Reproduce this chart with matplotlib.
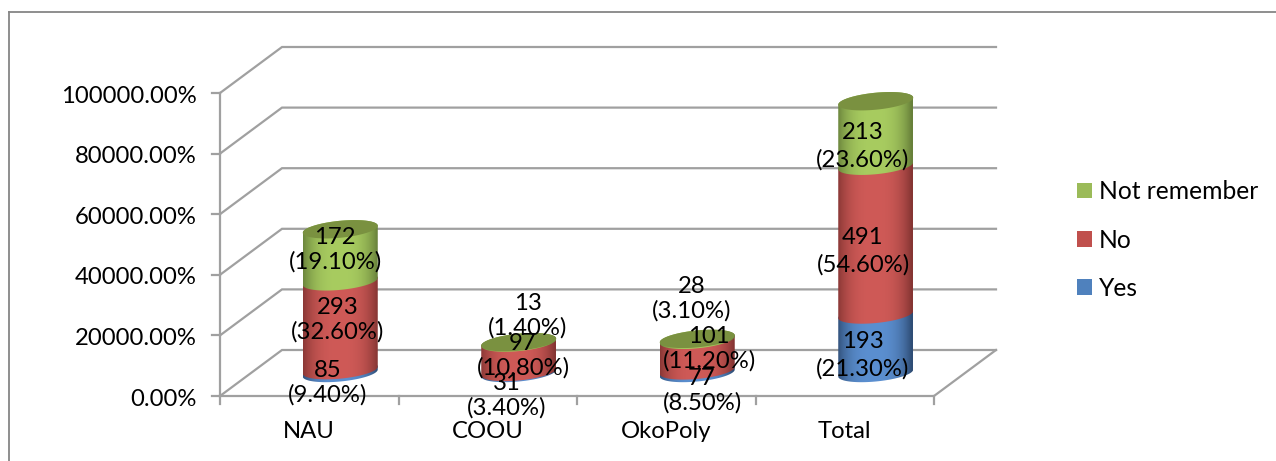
import numpy as np
import matplotlib
matplotlib.use("Agg")
import matplotlib.pyplot as plt
from matplotlib.patches import Patch, Polygon

plt.rcParams['font.family'] = ['Lato', 'DejaVu Sans']

# Chart data
categories = ['NAU', 'COOU', 'OkoPoly', 'Total']
series_names = ['Yes', 'No', 'Not remember']

# heights actually drawn in the chart
yes_values = [9.4, 3.4, 8.5, 193]
no_values = [293, 97, 101, 491]
not_remember_values = [172, 1.4, 3.1, 213]

# labels typed on the chart
yes_labels = ['85\n(9.40%)', '31\n(3.40%)', '77\n(8.50%)', '193\n(21.30%)']
no_labels = ['293\n(32.60%)', '97\n(10.80%)', '101\n(11.20%)', '491\n(54.60%)']
not_remember_labels = ['172\n(19.10%)', '13\n(1.40%)', '28\n(3.10%)', '213\n(23.60%)']

y_ticks = [0, 200, 400, 600, 800, 1000]

# Colours
grid_color = '#a0a0a0'
border_color = '#868686'
legend_colors = ['#4f81bd', '#c0504d', '#9bbb59']
center_colors = ['#5b8fd0', '#cf5a57', '#a8cc60']
edge_colors = ['#2f4d75', '#853533', '#67803a']
top_color = '#7a9140'

# Layout in pixels of the 1276x461 picture
W, H = 1276, 461
x0_px, y0_px = 220, 396
cat_px = 178.5
val_px = 0.303
depth_x_px, depth_y_px = 62, 46
font_size = 17.2

depth_x = depth_x_px / cat_px
depth_y = depth_y_px / val_px


def px_x(p):
    return (p - x0_px) / cat_px


def px_y(p):
    return (y0_px - p) / val_px


fig = plt.figure(figsize=(W / 100, H / 100), dpi=100)
ax = fig.add_axes([0, 0, 1, 1])
ax.set_axis_off()

# Chart frame, top and left only
ax.plot([px_x(9), px_x(9)], [px_y(461), px_y(12)], color=border_color, lw=1.3, zorder=1)
ax.plot([px_x(9), px_x(1276)], [px_y(12), px_y(12)], color=border_color, lw=1.3, zorder=1)

# Walls and floor
for v in y_ticks:
    ax.plot([0, depth_x, 4 + depth_x], [v, v + depth_y, v + depth_y],
            color=grid_color, lw=1.6, zorder=1, solid_joinstyle='miter')
    ax.plot([px_x(212), 0], [v, v], color=grid_color, lw=1.6, zorder=1)
    ax.text(px_x(197), v - 3.2 / val_px, f'{v * 100:.2f}%', ha='right', va='center',
            fontsize=font_size, color='black')
ax.plot([0, 0], [0, 1000], color=grid_color, lw=1.6, zorder=1)
ax.plot([0, 4, 4 + depth_x], [0, 0, depth_y], color=grid_color, lw=1.6, zorder=1)
for i in range(5):
    ax.plot([i, i], [0, px_y(404)], color=grid_color, lw=1.6, zorder=1)

# Cylinders
a = 37.5 / cat_px
b = 8.5 / val_px
s = 3.5 / val_px
t_front = np.linspace(np.pi, 2 * np.pi, 60)
t_all = np.linspace(0, 2 * np.pi, 120)
cmap_n = 200


def shade(c_edge, c_center):
    pos = np.linspace(-1, 1, cmap_n)
    w = (1 - np.abs(pos + 0.03) ** 2.8).clip(0, 1)[None, :, None]
    e = np.array(matplotlib.colors.to_rgb(c_edge))[None, None, :]
    c = np.array(matplotlib.colors.to_rgb(c_center))[None, None, :]
    return e + (c - e) * w


def draw_segment(cx, base, top, k, z):
    # outline: front arc at the bottom, then back over the upper ellipse
    xb = cx + a * np.cos(t_front)
    yb = base + b * np.sin(t_front) + s * np.cos(t_front)
    t_back = np.linspace(0, np.pi, 60)
    xt = cx + a * np.cos(t_back)
    yt = top + b * np.sin(t_back) + s * np.cos(t_back)
    poly = Polygon(np.column_stack([np.r_[xb, xt], np.r_[yb, yt]]), closed=True,
                   facecolor='none', edgecolor='none', zorder=z)
    ax.add_patch(poly)
    im = ax.imshow(shade(edge_colors[k], center_colors[k]), aspect='auto',
                   extent=[cx - a, cx + a, base - b - s, top + b + s], zorder=z)
    im.set_clip_path(poly)


series = [yes_values, no_values, not_remember_values]
for i in range(len(categories)):
    cx = i + 0.5 + depth_x / 2
    base = depth_y / 2
    z = 2
    for k, vals in enumerate(series):
        draw_segment(cx, base, base + vals[i], k, z)
        base += vals[i]
        z += 0.1
    ax.fill(cx + a * np.cos(t_all), base + b * np.sin(t_all) + s * np.cos(t_all),
            color=top_color, lw=0, zorder=z)

# Data labels, placed by hand in the original
yes_pos = [(328, 383), (507, 396), (702, 391), (863, 355)]
no_pos = [(338, 320), (523, 356), (709, 349), (863, 251)]
nr_pos = [(335, 250), (528, 316), (692, 299), (863, 146)]
for labels, pos in [(yes_labels, yes_pos), (no_labels, no_pos), (not_remember_labels, nr_pos)]:
    for i, (txt, (px, py)) in enumerate(zip(labels, pos)):
        ax.text(px_x(px), px_y(py), txt, ha='center', va='center', fontsize=font_size,
                color='black', linespacing=1.36 if i == 3 else 1.17, zorder=5)

# Category labels
for i, cat in enumerate(categories):
    ax.text(i + 0.5, px_y(431), cat, ha='center', va='center', fontsize=font_size, color='black')

ax.set_xlim(px_x(0), px_x(W))
ax.set_ylim(px_y(H), px_y(0))

# Legend
handles = [Patch(facecolor=legend_colors[k], edgecolor='none', label=series_names[k])
           for k in [2, 1, 0]]
leg = ax.legend(handles=handles, loc='center left',
                bbox_to_anchor=(1077 / W, 1 - 240 / H), frameon=False, fontsize=17.7,
                handlelength=0.61, handleheight=0.61, handletextpad=0.28,
                labelspacing=1.03, borderpad=0, borderaxespad=0)

fig.savefig('out.png', dpi=100, facecolor='white')
